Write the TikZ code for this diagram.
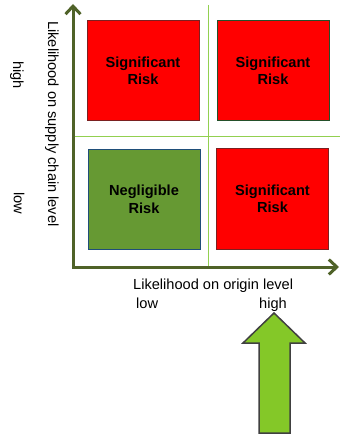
\documentclass[tikz,border=0pt]{standalone}
\usepackage{fontspec}
\setmainfont{Liberation Sans}
\usetikzlibrary{calc,arrows.meta,positioning}

\definecolor{axisgreen}{HTML}{4F6228}
\definecolor{gridgreen}{HTML}{92D050}
\definecolor{lowgreen}{HTML}{669933}
\definecolor{pointgreen}{HTML}{84C828}
\definecolor{redline}{HTML}{7B2020}
\definecolor{greenline}{HTML}{24502A}
\definecolor{blueline}{HTML}{1F4E79}

\def\txt{\fontsize{14.6}{17.5}\selectfont}

\begin{document}
\begin{tikzpicture}[x=1pt,y=-1pt,
    riskbox/.style={draw,line width=1pt,minimum width=112pt,minimum height=100pt,inner sep=0pt,
      align=center,font=\txt\bfseries},
    axis/.style={draw=axisgreen,line width=3pt,line join=miter},
    gridline/.style={draw=gridgreen,line width=.8pt},
    every node/.style={font=\txt}]

  %% fix the page
  \useasboundingbox (0,0) rectangle (340,435);

  %% Set coordinates of the axes
  \coordinate (origin) at (73,267);
  \coordinate (ytip) at (73,4);
  \coordinate (xtip) at (339,267);

  %% Draw the quadrant lines
  \draw[gridline] (208,5) -- (208,267);
  \draw[gridline] (73,136) -- (340,136);

  %% Draw the axes
  \draw[axis,{Straight Barb[length=8pt,width=15pt]}-{Straight Barb[length=8pt,width=15pt]}]
    (ytip) -- (origin) -- (xtip);

  %% Draw the four boxes
  \node[riskbox,fill=red,draw=redline] (highlow) at (143,71) {Significant\\Risk};
  \node[riskbox,fill=red,draw=greenline] (highhigh) at (273,71) {Significant\\Risk};
  \node[riskbox,fill=lowgreen,draw=blueline] (lowlow) at (144,199.5) {Negligible\\Risk};
  \node[riskbox,fill=red,draw=redline] (lowhigh) at (272.5,199) {Significant\\Risk};

  %% labels of the vertical axis
  \node[rotate=-90] (ylabel) at (52,124) {Likelihood on supply chain level};
  \node[rotate=-90] (yhigh) at (17,75) {high};
  \node[rotate=-90] (ylow) at (19,203) {low};

  %% labels of the horizontal axis
  \node[anchor=base west,inner sep=0pt] (xlabel) at (133,289) {Likelihood on origin level};
  \node[anchor=base west,inner sep=0pt] (xlow) at (136,308) {low};
  \node[anchor=base west,inner sep=0pt] (xhigh) at (259,308) {high};

  %% the big arrow
  \draw[draw=black!75,fill=pointgreen,line width=1.5pt,line join=miter]
    (274,313) -- (305,343) -- (290,343) -- (290,433) -- (259,433) -- (259,343) -- (243,343) -- cycle;

\end{tikzpicture}
\end{document}
